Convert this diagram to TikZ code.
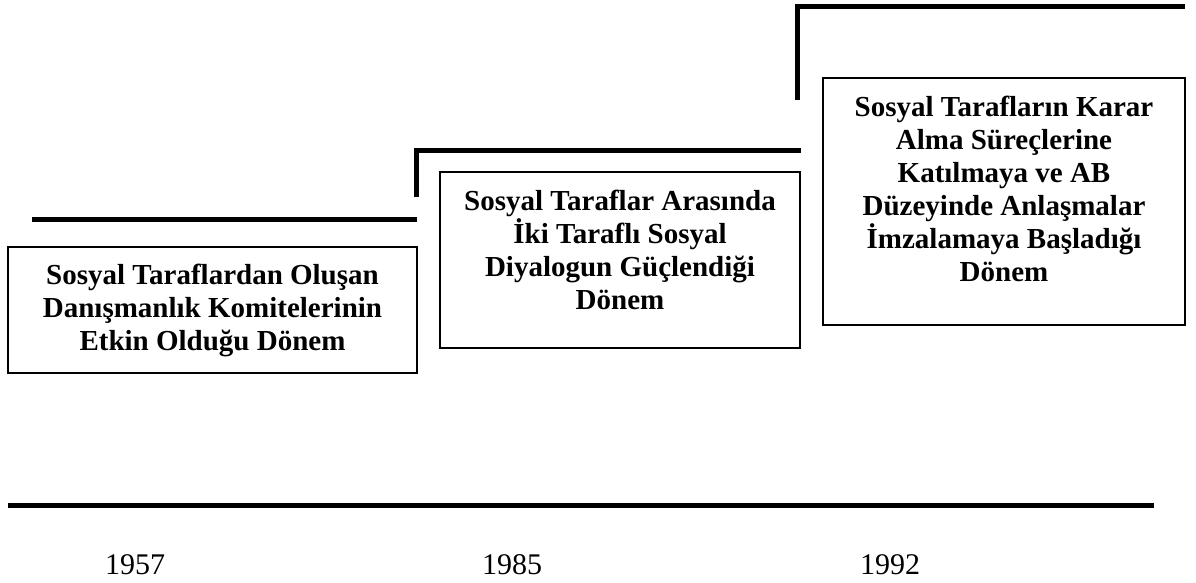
\documentclass[tikz,border=0pt]{standalone}
\usepackage{fontspec}
\setmainfont{Liberation Serif}
\usetikzlibrary{positioning}

\tikzset{
  period/.style={draw, line width=1.3pt, inner sep=0pt},
  periodtext/.style={align=center, inner sep=0pt, font=\bfseries\fontsize{29}{33}\selectfont},
  stair/.style={line width=5pt},
  yeartext/.style={anchor=base, inner sep=0pt, font=\fontsize{30}{36}\selectfont}
}

\begin{document}
\begin{tikzpicture}[x=1pt, y=-1pt]
  \useasboundingbox (0,0) rectangle (1196,583);

  % period boxes
  \node (p1) [period, minimum width=409pt, minimum height=126pt] at (212.5,310) {};
  \node (p2) [period, minimum width=360pt, minimum height=176pt] at (620,260) {};
  \node (p3) [period, minimum width=362pt, minimum height=247pt] at (1004,201.5) {};

  \node (t1) [periodtext, below=18pt of p1.north] {Sosyal Taraflardan Oluşan\\Danışmanlık Komitelerinin\\Etkin Olduğu Dönem};
  \node (t2) [periodtext, below=19pt of p2.north] {Sosyal Taraflar Arasında\\İki Taraflı Sosyal\\Diyalogun Güçlendiği\\Dönem};
  \node (t3) [periodtext, below=19pt of p3.north] {Sosyal Tarafların Karar\\Alma Süreçlerine\\Katılmaya ve AB\\Düzeyinde Anlaşmalar\\İmzalamaya Başladığı\\Dönem};

  % stairs
  \coordinate (s1a) at (32,219.5);
  \coordinate (s1b) at (417,219.5);
  \coordinate (s2a) at (416.5,197);
  \coordinate (s2b) at (416.5,150.5);
  \coordinate (s2c) at (800.5,150.5);
  \coordinate (s3a) at (797,100);
  \coordinate (s3b) at (797,6.5);
  \coordinate (s3c) at (1185,6.5);
  \draw[stair] (s1a) -- (s1b);
  \draw[stair] (s2a) -- (s2b) -- (s2c);
  \draw[stair] (s3a) -- (s3b) -- (s3c);

  % time axis
  \coordinate (ax1) at (8,505.5);
  \coordinate (ax2) at (1154,505.5);
  \draw[stair] (ax1) -- (ax2);

  \node (y1) [yeartext] at (135,574) {1957};
  \node (y2) [yeartext] at (512,574) {1985};
  \node (y3) [yeartext] at (890,574) {1992};
\end{tikzpicture}
\end{document}
